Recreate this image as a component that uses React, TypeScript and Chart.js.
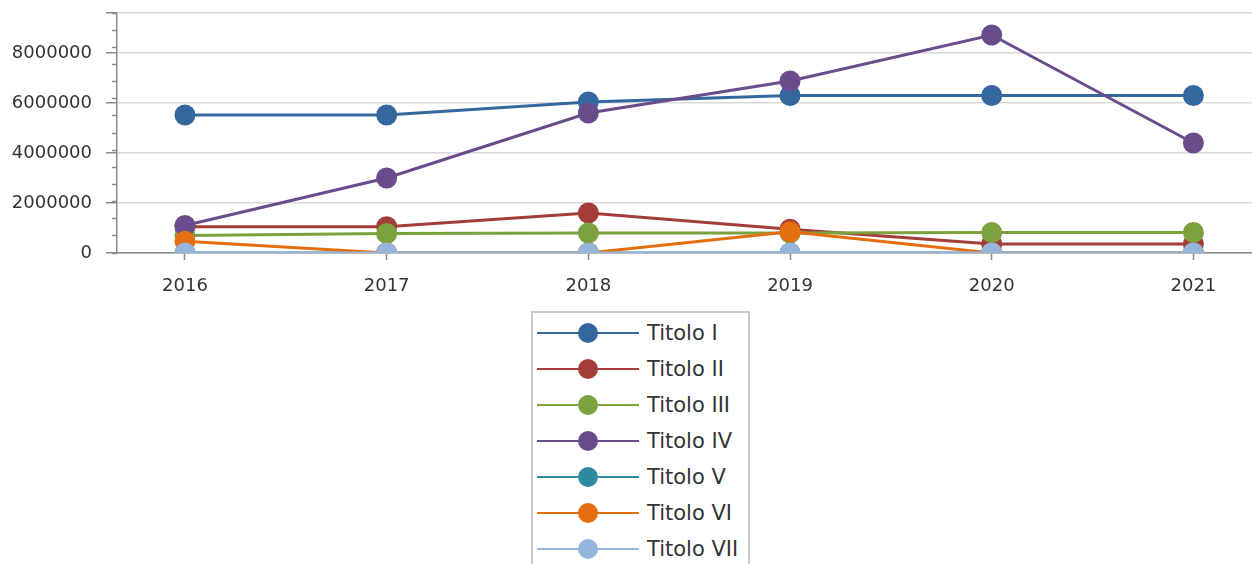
import { useEffect, useRef } from 'react';
import { Chart, registerables } from 'chart.js';

Chart.register(...registerables);

const years = [2016, 2017, 2018, 2019, 2020, 2021];
const seriesNames = ['Titolo I', 'Titolo II', 'Titolo III', 'Titolo IV', 'Titolo V', 'Titolo VI', 'Titolo VII'];
const titoloI = [5520000, 5520000, 6040000, 6300000, 6300000, 6300000];
const titoloII = [1050000, 1050000, 1600000, 950000, 360000, 360000];
const titoloIII = [700000, 780000, 800000, 800000, 820000, 820000];
const titoloIV = [1100000, 3000000, 5600000, 6880000, 8720000, 4400000];
const titoloV = [0, 0, 0, 0, 0, 0];
const titoloVI = [470000, 0, 0, 850000, 0, 0];
const titoloVII = [0, 0, 0, 0, 0, 0];
const seriesValues = [titoloI, titoloII, titoloIII, titoloIV, titoloV, titoloVI, titoloVII];
const seriesColors = ['#35679F', '#A43C39', '#7CA23F', '#6A4C8C', '#2F8AA0', '#E46F10', '#95B5DB'];
const yTickValues = [0, 2000000, 4000000, 6000000, 8000000];
const yMax = 9600000;
const yMinorStep = 2000000 / 3;
const xMin = 2015.663;
const xMax = 2021.293;

const FONT = '"DejaVu Sans", sans-serif';

export default function App() {
  const ref = useRef<HTMLCanvasElement>(null);

  useEffect(() => {
    const n = seriesNames.length;
    const chart = new Chart(ref.current as HTMLCanvasElement, {
      type: 'line',
      data: {
        datasets: seriesNames.map((name, i) => ({
          label: name,
          data: seriesValues[i].map((v, j) => ({ x: years[j], y: v })),
          borderColor: seriesColors[i],
          backgroundColor: seriesColors[i],
          pointBackgroundColor: seriesColors[i],
          pointBorderColor: seriesColors[i],
          pointBorderWidth: 0,
          borderWidth: 3,
          pointRadius: 10.5,
          pointHoverRadius: 10.5,
          tension: 0,
          yAxisID: 'y',
          xAxisID: 'x',
          order: n - i,
          clip: { left: false, top: false, right: false, bottom: 0 } as any,
        })),
      },
      options: {
        animation: false,
        responsive: true,
        maintainAspectRatio: false,
        layout: { padding: { left: 12, top: 13, right: 0, bottom: 0 } },
        plugins: {
          legend: { display: false },
          tooltip: { enabled: false },
        },
        scales: {
          x: {
            type: 'linear',
            min: xMin,
            max: xMax,
            afterBuildTicks: (s: any) => {
              s.ticks = years.map((v) => ({ value: v }));
            },
            afterFit: (s: any) => {
              s.height = 47;
              s.paddingLeft = 0;
              s.paddingRight = 0;
            },
            ticks: {
              autoSkip: false,
              maxRotation: 0,
              padding: 16,
              color: '#333333',
              font: { family: FONT, size: 18 },
              callback: (v: any) => String(v),
            },
            grid: {
              drawOnChartArea: false,
              drawTicks: true,
              tickLength: 7,
              tickColor: '#8c8c8c',
              tickWidth: 1.5,
            },
            border: { display: true, color: '#8a8a8a', width: 1.5 },
          },
          y: {
            type: 'linear',
            position: 'left',
            weight: 1,
            min: 0,
            max: yMax,
            afterBuildTicks: (s: any) => {
              s.ticks = [...yTickValues, yMax].map((v) => ({ value: v }));
            },
            afterFit: (s: any) => {
              s.width = 105;
              s.paddingTop = 0;
              s.paddingBottom = 0;
            },
            ticks: {
              padding: 14,
              color: '#333333',
              font: { family: FONT, size: 18 },
              callback: (v: any) => (yTickValues.includes(Number(v)) ? String(v) : ''),
            },
            grid: {
              color: '#d9d9d9',
              lineWidth: 1.5,
              drawTicks: true,
              tickLength: 11,
              tickColor: '#8c8c8c',
              tickWidth: 1.5,
            },
            border: { display: true, color: '#8a8a8a', width: 1.5 },
          },
          yMinor: {
            type: 'linear',
            position: 'left',
            weight: 0,
            min: 0,
            max: yMax,
            afterFit: (s: any) => {
              s.width = 0;
              s.paddingTop = 0;
              s.paddingBottom = 0;
            },
            ticks: { display: false, stepSize: yMinorStep },
            grid: {
              drawOnChartArea: false,
              drawTicks: true,
              tickLength: 5,
              tickColor: '#8c8c8c',
              tickWidth: 1.5,
            },
            border: { display: false },
          },
        },
      },
    } as any);
    return () => chart.destroy();
  }, []);

  return (
    <div
      style={{
        position: 'fixed',
        left: 0,
        top: 0,
        width: 1252,
        height: 564,
        background: '#ffffff',
        overflow: 'hidden',
      }}
    >
      <div style={{ position: 'absolute', left: 0, top: 0, width: 1263, height: 300 }}>
        <canvas ref={ref} />
      </div>
      <div
        style={{
          position: 'absolute',
          left: 531,
          top: 311,
          width: 215,
          height: 280,
          border: '2px solid #cacaca',
          boxSizing: 'content-box',
          paddingTop: 2,
        }}
      >
        {seriesNames.map((name, i) => (
          <div
            key={name}
            style={{ display: 'flex', alignItems: 'center', height: 36, paddingLeft: 4 }}
          >
            <svg width={102} height={24} style={{ display: 'block', flex: 'none' }}>
              <line x1={0} y1={12} x2={102} y2={12} stroke={seriesColors[i]} strokeWidth={2} />
              <circle cx={51} cy={12} r={10} fill={seriesColors[i]} />
            </svg>
            <span
              style={{
                marginLeft: 8,
                fontFamily: FONT,
                fontSize: 21,
                color: '#333333',
                whiteSpace: 'nowrap',
                lineHeight: '24px',
              }}
            >
              {name}
            </span>
          </div>
        ))}
      </div>
    </div>
  );
}
